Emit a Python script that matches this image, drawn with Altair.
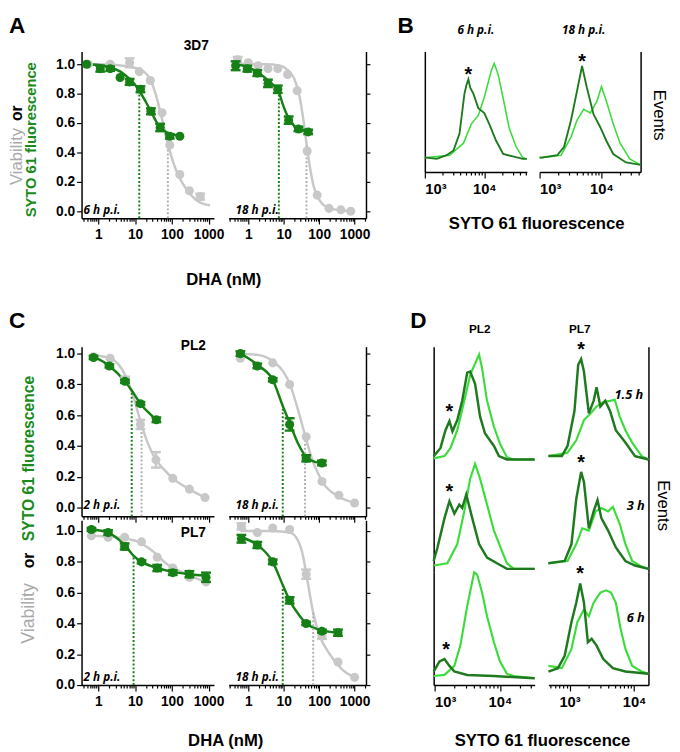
import altair as alt
import pandas as pd

FONT = "Liberation Sans"
ITAL = "Open Sans"
GREEN = "#168016"
GRAY = "#c8c8c8"
DARK = "#1f7a1f"
LIGHT = "#3ddc3d"
TXT_GREEN = "#1a8a1a"
TXT_GRAY = "#aaaaaa"

DOSE_LABELS = [1, 10, 100, 1000]
FLUO_LABELS = [1000, 10000]
MULT = [1, 2, 3, 4, 5, 6, 7, 8, 9]
Y_TICKS = [0.0, 0.2, 0.4, 0.6, 0.8, 1.0]

# ---------------- Panel A : 3D7, 6 h p.i. ----------------
A1_GRAY_DOSE = [0.54, 2.1, 7.1, 13, 26, 54, 88, 164, 300, 590]
A1_GRAY_VAL = [1.00, 1.00, 1.01, 0.95, 0.89, 0.67, 0.45, 0.25, 0.14, 0.10]
A1_GRAY_ERR = [0, 0, 0.03, 0, 0, 0, 0, 0, 0, 0.02]
A1_GREEN_DOSE = [0.48, 1.13, 2.1, 3.9, 7.1, 14, 27, 48, 88, 165]
A1_GREEN_VAL = [1.00, 0.97, 0.97, 0.91, 0.88, 0.83, 0.68, 0.57, 0.51, 0.51]
A1_GREEN_ERR = [0, 0.02, 0.015, 0, 0.02, 0.02, 0.02, 0.025, 0.015, 0]
A1_GRAY_FIT_DOSE = [0.45, 1, 3, 8, 15, 28, 40, 55, 78, 110, 160, 250, 500, 1100]
A1_GRAY_FIT = [1.0, 1.0, 0.995, 0.98, 0.96, 0.88, 0.76, 0.62, 0.46, 0.33, 0.23, 0.15, 0.07, 0.04]
A1_GREEN_FIT_DOSE = [0.48, 1, 2, 4, 7, 10, 13, 20, 27, 40, 60, 100, 165]
A1_GREEN_FIT = [1.0, 0.995, 0.98, 0.95, 0.9, 0.86, 0.82, 0.74, 0.68, 0.6, 0.55, 0.525, 0.515]
A1_EC_DOSE = [13, 78]
A1_EC_TOP = [0.82, 0.46]
A1_EC_KIND = ["green", "gray"]

# ---------------- Panel A : 3D7, 18 h p.i. ----------------
A2_GRAY_DOSE = [0.5, 1.0, 1.9, 3.6, 6.8, 12.9, 24, 46, 88, 190, 410, 780]
A2_GRAY_VAL = [1.03, 1.01, 0.99, 0.97, 0.97, 0.93, 0.82, 0.41, 0.11, 0.02, 0.01, 0.0]
A2_GRAY_ERR = [0.02, 0, 0, 0, 0, 0, 0, 0, 0, 0, 0, 0]
A2_GREEN_DOSE = [0.44, 0.94, 1.8, 3.6, 6.8, 13.8, 26, 49]
A2_GREEN_VAL = [0.99, 0.97, 0.94, 0.87, 0.83, 0.62, 0.56, 0.54]
A2_GREEN_ERR = [0.03, 0.02, 0.02, 0.025, 0.025, 0.025, 0.015, 0.015]
A2_GRAY_FIT_DOSE = [0.5, 3, 8, 13, 20, 28, 36, 44, 55, 70, 100, 200, 800]
A2_GRAY_FIT = [1.0, 1.0, 0.99, 0.96, 0.9, 0.78, 0.62, 0.46, 0.3, 0.17, 0.08, 0.02, 0.0]
A2_GREEN_FIT_DOSE = [0.44, 1, 2, 4, 7, 10, 14, 20, 30, 49]
A2_GREEN_FIT = [1.0, 0.98, 0.94, 0.88, 0.82, 0.71, 0.63, 0.58, 0.555, 0.545]
A2_EC_DOSE = [7.3, 44]
A2_EC_TOP = [0.81, 0.46]
A2_EC_KIND = ["green", "gray"]

# ---------------- Panel C : PL2, 2 h p.i. ----------------
C1_GRAY_DOSE = [0.74, 2.1, 5.4, 14, 37, 106, 300, 800]
C1_GRAY_VAL = [0.98, 0.97, 0.83, 0.54, 0.31, 0.19, 0.12, 0.065]
C1_GRAY_ERR = [0, 0, 0.02, 0.03, 0.05, 0, 0, 0]
C1_GREEN_DOSE = [0.74, 2.0, 5.3, 14, 38]
C1_GREEN_VAL = [0.975, 0.92, 0.82, 0.675, 0.57]
C1_GREEN_ERR = [0.01, 0.01, 0.01, 0.01, 0.015]
C1_GRAY_FIT_DOSE = [0.74, 2.1, 5.4, 9, 14, 22, 37, 60, 106, 300, 800]
C1_GRAY_FIT = [0.99, 0.97, 0.86, 0.72, 0.56, 0.42, 0.31, 0.25, 0.19, 0.12, 0.065]
C1_GREEN_FIT_DOSE = [0.74, 2, 5.3, 8.1, 14, 25, 38]
C1_GREEN_FIT = [0.98, 0.92, 0.82, 0.76, 0.675, 0.61, 0.57]
C1_EC_DOSE = [8.1, 15]
C1_EC_TOP = [0.76, 0.55]
C1_EC_KIND = ["green", "gray"]

# ---------------- Panel C : PL2, 18 h p.i. ----------------
C2_GRAY_DOSE = [0.6, 4.9, 14.7, 43, 120, 360, 1000]
C2_GRAY_VAL = [0.97, 0.94, 0.80, 0.46, 0.17, 0.08, 0.03]
C2_GRAY_ERR = [0, 0, 0, 0, 0, 0, 0]
C2_GREEN_DOSE = [0.6, 1.8, 4.9, 14.7, 43, 120]
C2_GREEN_VAL = [1.0, 0.92, 0.83, 0.54, 0.32, 0.29]
C2_GREEN_ERR = [0.015, 0.015, 0.01, 0.04, 0.02, 0.015]
C2_GRAY_FIT_DOSE = [0.5, 2, 5, 10, 15, 25, 40, 60, 90, 130, 360, 1000]
C2_GRAY_FIT = [1.0, 0.99, 0.95, 0.88, 0.8, 0.64, 0.47, 0.33, 0.23, 0.16, 0.07, 0.03]
C2_GREEN_FIT_DOSE = [0.6, 1, 2, 4.9, 9.4, 14.7, 25, 43, 80, 120]
C2_GREEN_FIT = [1.0, 0.97, 0.92, 0.83, 0.66, 0.55, 0.42, 0.33, 0.295, 0.29]
C2_EC_DOSE = [9.4, 40]
C2_EC_TOP = [0.64, 0.47]
C2_EC_KIND = ["green", "gray"]

# ---------------- Panel C : PL7, 2 h p.i. ----------------
C3_GRAY_DOSE = [0.65, 1.85, 5.2, 15, 40, 106, 300, 850]
C3_GRAY_VAL = [0.97, 0.96, 0.96, 0.93, 0.83, 0.76, 0.70, 0.67]
C3_GRAY_ERR = [0, 0, 0, 0, 0, 0, 0, 0]
C3_GREEN_DOSE = [0.65, 1.85, 5.2, 15, 40, 106, 300, 850]
C3_GREEN_VAL = [1.01, 0.99, 0.90, 0.80, 0.76, 0.73, 0.72, 0.70]
C3_GREEN_ERR = [0.01, 0.015, 0.02, 0.01, 0.02, 0.015, 0.02, 0.03]
C3_GRAY_FIT_DOSE = [0.65, 3, 12, 30, 70, 200, 500, 850]
C3_GRAY_FIT = [0.97, 0.96, 0.93, 0.87, 0.79, 0.73, 0.69, 0.67]
C3_GREEN_FIT_DOSE = [0.65, 1.85, 3, 5.2, 9, 15, 40, 106, 300, 850]
C3_GREEN_FIT = [1.01, 0.99, 0.96, 0.91, 0.84, 0.80, 0.76, 0.735, 0.72, 0.71]
C3_EC_DOSE = [9.1]
C3_EC_TOP = [0.84]
C3_EC_KIND = ["green"]

# ---------------- Panel C : PL7, 18 h p.i. ----------------
C4_GRAY_DOSE = [0.64, 1.8, 4.9, 14.7, 43, 120, 340, 1000]
C4_GRAY_VAL = [1.03, 0.99, 1.02, 1.01, 0.72, 0.32, 0.15, 0.05]
C4_GRAY_ERR = [0.02, 0, 0, 0, 0.03, 0.02, 0, 0]
C4_GREEN_DOSE = [0.64, 1.8, 4.9, 14.7, 43, 120, 340]
C4_GREEN_VAL = [0.95, 0.91, 0.80, 0.55, 0.40, 0.35, 0.34]
C4_GREEN_ERR = [0.025, 0.02, 0.015, 0.02, 0.01, 0.01, 0.02]
C4_GRAY_FIT_DOSE = [0.6, 5, 15, 25, 35, 45, 68, 100, 200, 450, 1000]
C4_GRAY_FIT = [1.0, 1.0, 0.99, 0.94, 0.84, 0.7, 0.47, 0.33, 0.2, 0.1, 0.05]
C4_GREEN_FIT_DOSE = [0.64, 1.8, 4.9, 9.4, 14.7, 28, 43, 100, 340]
C4_GREEN_FIT = [0.96, 0.91, 0.80, 0.65, 0.55, 0.45, 0.40, 0.36, 0.34]
C4_EC_DOSE = [9.4, 68]
C4_EC_TOP = [0.64, 0.47]
C4_EC_KIND = ["green", "gray"]

# ---------------- Panel B histograms (3D7) ----------------
B1_DARK_F = [1000, 1080, 1580, 2330, 3040, 3830, 4640, 5000, 5400, 5800, 6550, 7940, 10000, 12100, 15800, 20800, 30300, 44400, 52000]
B1_DARK_C = [0.12, 0.12, 0.11, 0.14, 0.18, 0.32, 0.65, 0.72, 0.77, 0.70, 0.65, 0.53, 0.49, 0.40, 0.26, 0.15, 0.13, 0.11, 0.11]
B1_LIGHT_F = [1000, 1080, 2610, 4470, 6060, 7940, 10000, 13100, 14700, 17100, 20800, 26100, 34200, 44400, 52000]
B1_LIGHT_C = [0.12, 0.12, 0.14, 0.24, 0.40, 0.47, 0.62, 0.84, 0.90, 0.81, 0.61, 0.37, 0.21, 0.12, 0.11]
B2_DARK_F = [1000, 1075, 1930, 2490, 3220, 4020, 4860, 5820, 7440, 9620, 12000, 15500, 25000, 43000]
B2_DARK_C = [0.12, 0.12, 0.14, 0.21, 0.43, 0.67, 0.88, 0.70, 0.48, 0.37, 0.26, 0.15, 0.08, 0.06]
B2_LIGHT_F = [1000, 1075, 2220, 3220, 4020, 5160, 6640, 8480, 10000, 12000, 15500, 20000, 28700, 43000]
B2_LIGHT_C = [0.12, 0.12, 0.14, 0.29, 0.43, 0.52, 0.49, 0.59, 0.71, 0.59, 0.40, 0.24, 0.11, 0.06]
B1_STAR = [5400, 0.80]
B2_STAR = [4860, 0.91]

# ---------------- Panel D histograms ----------------
D_L1_DARK_F = [970, 1230, 1470, 1690, 1880, 2230, 2650, 3160, 3510, 4170, 4970, 5920, 8100, 9650, 12800, 34000]
D_L1_DARK_C = [0.03, 0.10, 0.26, 0.34, 0.25, 0.35, 0.52, 0.77, 0.78, 0.67, 0.38, 0.23, 0.12, 0.03, 0.0, 0.0]
D_L1_LIGHT_F = [970, 1420, 1750, 2230, 2850, 3510, 4800, 5330, 6350, 8100, 10000, 12800, 16300, 34000]
D_L1_LIGHT_C = [0.01, 0.03, 0.10, 0.26, 0.52, 0.75, 0.93, 0.81, 0.52, 0.29, 0.14, 0.02, 0.0, 0.0]
D_L2_DARK_F = [970, 1110, 1420, 1690, 2010, 2390, 2650, 3060, 3770, 4800, 6350, 9000, 12800, 34000]
D_L2_DARK_C = [0.10, 0.22, 0.48, 0.63, 0.52, 0.60, 0.57, 0.69, 0.48, 0.25, 0.13, 0.08, 0.03, 0.03]
D_L2_LIGHT_F = [970, 1570, 2230, 2850, 3510, 4170, 4970, 6350, 8100, 10700, 12800, 16300, 34000]
D_L2_LIGHT_C = [0.06, 0.08, 0.25, 0.54, 0.83, 0.96, 0.83, 0.60, 0.37, 0.19, 0.08, 0.03, 0.03]
D_L3_DARK_F = [970, 1190, 1420, 1690, 2010, 3160, 8100, 34000]
D_L3_DARK_C = [0.12, 0.21, 0.23, 0.17, 0.12, 0.09, 0.08, 0.06]
D_L3_LIGHT_F = [970, 1420, 2010, 2480, 3160, 4040, 4480, 5330, 6350, 8100, 10000, 12800, 16300, 34000]
D_L3_LIGHT_C = [0.08, 0.09, 0.17, 0.35, 0.70, 1.0, 0.98, 0.82, 0.61, 0.38, 0.21, 0.10, 0.08, 0.06]
D_R1_DARK_F = [470, 760, 930, 1190, 1360, 1510, 1670, 1990, 2360, 2620, 3000, 3570, 4240, 5210, 7340, 10340, 16700]
D_R1_DARK_C = [0.03, 0.03, 0.12, 0.43, 0.84, 0.89, 0.78, 0.41, 0.52, 0.64, 0.47, 0.52, 0.43, 0.26, 0.15, 0.03, 0.0]
D_R1_LIGHT_F = [470, 930, 1270, 1670, 2130, 2620, 3330, 4240, 5030, 5980, 7340, 9350, 13100, 16700]
D_R1_LIGHT_C = [0.03, 0.06, 0.17, 0.35, 0.41, 0.47, 0.51, 0.52, 0.53, 0.38, 0.26, 0.15, 0.03, 0.0]
D_R2_DARK_F = [470, 840, 1070, 1270, 1510, 1670, 1990, 2360, 2710, 3110, 3960, 5210, 7340, 10340, 16700]
D_R2_DARK_C = [0.08, 0.10, 0.25, 0.65, 0.89, 0.80, 0.39, 0.54, 0.64, 0.48, 0.37, 0.22, 0.10, 0.06, 0.03]
D_R2_LIGHT_F = [470, 930, 1270, 1570, 1990, 2530, 3110, 3960, 4690, 5980, 7340, 9350, 13100, 16700]
D_R2_LIGHT_C = [0.08, 0.10, 0.25, 0.39, 0.37, 0.54, 0.57, 0.54, 0.58, 0.43, 0.25, 0.10, 0.05, 0.03]
D_R3_DARK_F = [470, 660, 840, 1070, 1270, 1460, 1670, 1920, 2200, 2620, 3330, 4690, 7340, 16700]
D_R3_DARK_C = [0.12, 0.15, 0.26, 0.56, 0.73, 0.90, 0.73, 0.38, 0.41, 0.35, 0.23, 0.15, 0.12, 0.10]
D_R3_LIGHT_F = [470, 760, 1070, 1320, 1670, 1990, 2360, 3000, 3690, 4390, 5210, 6180, 7340, 9350, 13100, 16700]
D_R3_LIGHT_C = [0.17, 0.15, 0.32, 0.56, 0.67, 0.61, 0.73, 0.82, 0.84, 0.82, 0.73, 0.50, 0.32, 0.17, 0.12, 0.10]
D_STARS = {"L1": [1690, 0.42], "L2": [1690, 0.71], "L3": [1500, 0.31],
           "R1": [1510, 0.97], "R2": [1510, 0.97], "R3": [1460, 0.98]}

ONE = pd.DataFrame({"k": [0]})


def log_ticks(lo, hi):
    out = []
    for e in range(-1, 6):
        for m in MULT:
            v = round(m * 10.0 ** e, 6)
            if lo <= v <= hi:
                out.append(v)
    return out


def txt(t, x, y, size=13, weight="bold", color="black", font=FONT, style="normal",
        angle=0, align="center", baseline="middle"):
    return alt.Chart(ONE).mark_text(
        text=t, fontSize=size, fontWeight=weight, color=color, font=font,
        fontStyle=style, angle=angle, align=align, baseline=baseline
    ).encode(x=alt.value(x), y=alt.value(y))


def dose_xaxis(dom, labels):
    lst = "[" + ",".join(str(v) for v in DOSE_LABELS) + "]"
    return alt.Axis(
        values=log_ticks(*dom),
        labelExpr=f"indexof({lst}, datum.value) >= 0 ? format(datum.value, 'd') : ''",
        labels=labels,
        tickSize={"condition": {"test": f"indexof({lst}, datum.value) >= 0", "value": 6}, "value": 3},
        tickColor="black", tickWidth=1.2, domainColor="black", domainWidth=1.5,
        grid=False, title=None, labelFont=FONT, labelFontWeight="bold",
        labelFontSize=14, labelColor="black", labelPadding=4, labelOverlap=False,
    )


def dose_yaxis(orient):
    common = dict(values=Y_TICKS, tickColor="black", tickWidth=1.2, domainColor="black",
                  domainWidth=1.5, grid=False, title=None)
    if orient == "left":
        return alt.Axis(orient="left", format=".1f", tickSize=5, labelFont=FONT,
                        labelFontWeight="bold", labelFontSize=14, labelColor="black",
                        labelPadding=2, **common)
    return alt.Axis(orient="right", labels=False, tickSize=4, **common)


def dose_panel(gd, gv, ge, nd, nv, ne, gfd, gf, nfd, nf, ecd, ect, eck,
               xdom, ydom, w, h, orient, xlabels, texts):
    xs = alt.Scale(type="log", domain=xdom, nice=False)
    ys = alt.Scale(domain=ydom, nice=False, zero=False)
    xa = dose_xaxis(xdom, xlabels)
    ya = dose_yaxis(orient)

    def X(f):
        return alt.X(f, scale=xs, axis=xa, title=None)

    def Y(f):
        return alt.Y(f, scale=ys, axis=ya, title=None)

    def pts(d, v, e):
        return pd.DataFrame({"dose": d, "v": v,
                             "lo": [a - b for a, b in zip(v, e)],
                             "hi": [a + b for a, b in zip(v, e)],
                             "e": e})

    pg = pts(gd, gv, ge)
    pn = pts(nd, nv, ne)
    peg = pg[pg.e > 0]
    pen = pn[pn.e > 0]
    fg = pd.DataFrame({"dose": gfd, "v": gf})
    fn = pd.DataFrame({"dose": nfd, "v": nf})
    ec = pd.DataFrame({"dose": ecd, "top": ect, "kind": eck, "base": [ydom[0]] * len(ecd)})

    layers = [
        alt.Chart(fg).mark_line(color=GRAY, strokeWidth=2.5, interpolate="monotone")
        .encode(x=X("dose:Q"), y=Y("v:Q")),
        alt.Chart(fn).mark_line(color=GREEN, strokeWidth=2.5, interpolate="monotone")
        .encode(x=X("dose:Q"), y=Y("v:Q")),
    ]
    ecg = ec[ec.kind == "gray"]
    ecn = ec[ec.kind == "green"]
    if len(ecg):
        layers.append(alt.Chart(ecg).mark_rule(color="#b0b0b0", strokeWidth=2, strokeDash=[2, 2])
                      .encode(x=X("dose:Q"), y=Y("base:Q"), y2="top:Q"))
    if len(ecn):
        layers.append(alt.Chart(ecn).mark_rule(color=GREEN, strokeWidth=2, strokeDash=[2, 2])
                      .encode(x=X("dose:Q"), y=Y("base:Q"), y2="top:Q"))
    for p, pe, col in [(pg, peg, GRAY), (pn, pen, GREEN)]:
        layers.append(alt.Chart(p).mark_circle(color=col, size=85, opacity=1)
                      .encode(x=X("dose:Q"), y=Y("v:Q")))
        if len(pe):
            layers.append(alt.Chart(pe).mark_rule(color=col, strokeWidth=2.5)
                          .encode(x=X("dose:Q"), y=Y("lo:Q"), y2="hi:Q"))
            for f in ["lo", "hi"]:
                layers.append(alt.Chart(pe).mark_tick(color=col, orient="horizontal", size=10,
                                                      thickness=2.5, opacity=1)
                              .encode(x=X("dose:Q"), y=Y(f + ":Q")))
    layers += texts
    return alt.layer(*layers).properties(width=w, height=h)


def hist_panel(dx, dy, lx, ly, star, xdom, w, h, side, show_x, sw, texts):
    xs = alt.Scale(type="log", domain=xdom, nice=False)
    ys = alt.Scale(domain=[0, 1], nice=False, zero=False)
    if show_x:
        lst = "[" + ",".join(str(v) for v in FLUO_LABELS) + "]"
        xa = alt.Axis(
            values=log_ticks(*xdom),
            labelExpr="datum.value == 1000 ? '10³' : (datum.value == 10000 ? '10⁴' : '')",
            tickSize={"condition": {"test": f"indexof({lst}, datum.value) >= 0", "value": 6}, "value": 3},
            tickColor="black", tickWidth=1.2, domainColor="black", domainWidth=1.5,
            grid=False, title=None, labelFont=FONT, labelFontWeight="bold",
            labelFontSize=15, labelColor="black", labelPadding=4, labelOverlap=False,
        )
    else:
        xa = None
    ya = alt.Axis(orient=side, labels=False, ticks=False, domainColor="black",
                  domainWidth=1.5, grid=False, title=None)

    def X(f):
        return alt.X(f, scale=xs, axis=xa, title=None)

    def Y(f):
        return alt.Y(f, scale=ys, axis=ya, title=None)

    dl = pd.DataFrame({"f": lx, "c": ly})
    dd = pd.DataFrame({"f": dx, "c": dy})
    st = pd.DataFrame({"f": [star[0]], "c": [star[1]]})
    layers = [
        alt.Chart(dl).mark_line(color=LIGHT, strokeWidth=sw).encode(x=X("f:Q"), y=Y("c:Q")),
        alt.Chart(dd).mark_line(color=DARK, strokeWidth=sw + 0.3).encode(x=X("f:Q"), y=Y("c:Q")),
        alt.Chart(st).mark_text(text="*", fontSize=20, fontWeight="bold", font=FONT,
                                color="black", baseline="middle")
        .encode(x=X("f:Q"), y=Y("c:Q")),
    ]
    layers += texts
    return alt.layer(*layers).properties(width=w, height=h)


def spacer(w):
    return alt.Chart(ONE).mark_point(opacity=0).encode(
        x=alt.X("k:Q", axis=None), y=alt.Y("k:Q", axis=None)
    ).properties(width=w, height=10)


ITL = dict(size=12, weight="bold", font=ITAL, style="italic")

# ---------- top row ----------
A_YDOM = [-0.047, 1.087]
LEFT_XDOM = [0.35, 1400]
RIGHT_XDOM = [0.28, 2100]

A1 = dose_panel(A1_GRAY_DOSE, A1_GRAY_VAL, A1_GRAY_ERR, A1_GREEN_DOSE, A1_GREEN_VAL, A1_GREEN_ERR,
                A1_GRAY_FIT_DOSE, A1_GRAY_FIT, A1_GREEN_FIT_DOSE, A1_GREEN_FIT,
                A1_EC_DOSE, A1_EC_TOP, A1_EC_KIND, LEFT_XDOM, A_YDOM, 135, 170, "left", True,
                [txt("A", -74, -37, size=23, baseline="top", align="left"),
                 txt("Viability", -66, 107, size=17, weight="normal", color=TXT_GRAY, angle=270),
                 txt("or", -66, 63, size=16, angle=270),
                 txt("SYTO 61 fluorescence", -51, 90, size=15, color=TXT_GREEN, angle=270),
                 txt("3D7", 117, -5, size=14),
                 txt("6 h p.i.", 2, 162, align="left", **ITL),
                 txt("DHA (nM)", 145, 233, size=17)])
A2 = dose_panel(A2_GRAY_DOSE, A2_GRAY_VAL, A2_GRAY_ERR, A2_GREEN_DOSE, A2_GREEN_VAL, A2_GREEN_ERR,
                A2_GRAY_FIT_DOSE, A2_GRAY_FIT, A2_GREEN_FIT_DOSE, A2_GREEN_FIT,
                A2_EC_DOSE, A2_EC_TOP, A2_EC_KIND, RIGHT_XDOM, A_YDOM, 140, 170, "right", True,
                [txt("18 h p.i.", 7, 162, align="left", **ITL)])

B1 = hist_panel(B1_DARK_F, B1_DARK_C, B1_LIGHT_F, B1_LIGHT_C, B1_STAR, [1000, 52000], 104, 123,
                "left", True, 1.6,
                [txt("B", -28, -37, size=23, baseline="top", align="left"),
                 txt("6 h p.i.", 52, -22, **ITL),
                 txt("SYTO 61 fluorescence", 114, 176, size=17)])
B2 = hist_panel(B2_DARK_F, B2_DARK_C, B2_LIGHT_F, B2_LIGHT_C, B2_STAR, [1000, 43000], 103, 123,
                "right", True, 1.6,
                [txt("18 h p.i.", 45, -22, **ITL),
                 txt("Events", 122, 65, size=17, weight="normal", angle=90)])

top = alt.hconcat(A1, spacer(15), A2, spacer(60), B1, spacer(13), B2, spacing=0, bounds="flush")

# ---------- bottom row ----------
CT_YDOM = [-0.057, 1.045]
CB_YDOM = [0.0, 1.07]

C1 = dose_panel(C1_GRAY_DOSE, C1_GRAY_VAL, C1_GRAY_ERR, C1_GREEN_DOSE, C1_GREEN_VAL, C1_GREEN_ERR,
                C1_GRAY_FIT_DOSE, C1_GRAY_FIT, C1_GREEN_FIT_DOSE, C1_GREEN_FIT,
                C1_EC_DOSE, C1_EC_TOP, C1_EC_KIND, LEFT_XDOM, CT_YDOM, 135, 173, "left", False,
                [txt("C", -74, -37, size=23, baseline="top", align="left"),
                 txt("SYTO 61 fluorescence", -54, 114, size=16, color=TXT_GREEN, angle=270),
                 txt("PL2", 114, -1, size=14),
                 txt("2 h p.i.", 2, 161, align="left", **ITL)])
C2 = dose_panel(C2_GRAY_DOSE, C2_GRAY_VAL, C2_GRAY_ERR, C2_GREEN_DOSE, C2_GREEN_VAL, C2_GREEN_ERR,
                C2_GRAY_FIT_DOSE, C2_GRAY_FIT, C2_GREEN_FIT_DOSE, C2_GREEN_FIT,
                C2_EC_DOSE, C2_EC_TOP, C2_EC_KIND, RIGHT_XDOM, CT_YDOM, 140, 173, "right", False,
                [txt("18 h p.i.", 7, 161, align="left", **ITL)])
C3 = dose_panel(C3_GRAY_DOSE, C3_GRAY_VAL, C3_GRAY_ERR, C3_GREEN_DOSE, C3_GREEN_VAL, C3_GREEN_ERR,
                C3_GRAY_FIT_DOSE, C3_GRAY_FIT, C3_GREEN_FIT_DOSE, C3_GREEN_FIT,
                C3_EC_DOSE, C3_EC_TOP, C3_EC_KIND, LEFT_XDOM, CB_YDOM, 135, 168, "left", True,
                [txt("or", -54, 41, size=16, angle=270),
                 txt("Viability", -54, 95, size=18, weight="normal", color=TXT_GRAY, angle=270),
                 txt("PL7", 114, 13, size=14),
                 txt("2 h p.i.", 2, 160, align="left", **ITL),
                 txt("DHA (nM)", 147, 225, size=17)])
C4 = dose_panel(C4_GRAY_DOSE, C4_GRAY_VAL, C4_GRAY_ERR, C4_GREEN_DOSE, C4_GREEN_VAL, C4_GREEN_ERR,
                C4_GRAY_FIT_DOSE, C4_GRAY_FIT, C4_GREEN_FIT_DOSE, C4_GREEN_FIT,
                C4_EC_DOSE, C4_EC_TOP, C4_EC_KIND, RIGHT_XDOM, CB_YDOM, 140, 168, "right", True,
                [txt("18 h p.i.", 7, 160, align="left", **ITL)])

C_grid = alt.concat(C1, C2, C3, C4, columns=2, spacing={"row": 4, "column": 15}, bounds="flush")

DL = [970, 34000]
DR = [470, 16700]
L1 = hist_panel(D_L1_DARK_F, D_L1_DARK_C, D_L1_LIGHT_F, D_L1_LIGHT_C, D_STARS["L1"], DL, 103, 115,
                "left", False, 2.2,
                [txt("D", -24, -37, size=23, baseline="top", align="left"),
                 txt("PL2", 47, -18, size=12)])
R1 = hist_panel(D_R1_DARK_F, D_R1_DARK_C, D_R1_LIGHT_F, D_R1_LIGHT_C, D_STARS["R1"], DR, 102, 115,
                "right", False, 2.2,
                [txt("PL7", 32, -18, size=12),
                 txt("1.5 h", 82, 49, **dict(ITL, size=13))])
L2 = hist_panel(D_L2_DARK_F, D_L2_DARK_C, D_L2_LIGHT_F, D_L2_LIGHT_C, D_STARS["L2"], DL, 103, 115,
                "left", False, 2.2, [])
R2 = hist_panel(D_R2_DARK_F, D_R2_DARK_C, D_R2_LIGHT_F, D_R2_LIGHT_C, D_STARS["R2"], DR, 102, 115,
                "right", False, 2.2,
                [txt("3 h", 89, 47, **dict(ITL, size=13)),
                 txt("Events", 117, 47, size=17, weight="normal", angle=90)])
L3 = hist_panel(D_L3_DARK_F, D_L3_DARK_C, D_L3_LIGHT_F, D_L3_LIGHT_C, D_STARS["L3"], DL, 103, 115,
                "left", True, 2.2,
                [txt("SYTO 61 fluorescence", 111, 172, size=17)])
R3 = hist_panel(D_R3_DARK_F, D_R3_DARK_C, D_R3_LIGHT_F, D_R3_LIGHT_C, D_STARS["R3"], DR, 102, 115,
                "right", True, 2.2,
                [txt("6 h", 89, 47, **dict(ITL, size=13))])

D_grid = alt.concat(L1, R1, L2, R2, L3, R3, columns=2, spacing={"row": 0, "column": 14}, bounds="flush")

bottom = alt.hconcat(C_grid, D_grid, spacing=40)

chart = alt.vconcat(top, bottom, spacing=23).properties(
    padding={"left": 0, "top": 0, "right": 0, "bottom": 0}, background="white"
).configure_view(stroke=None)

chart.save("out.html", embed_options={"renderer": "svg", "actions": False})
